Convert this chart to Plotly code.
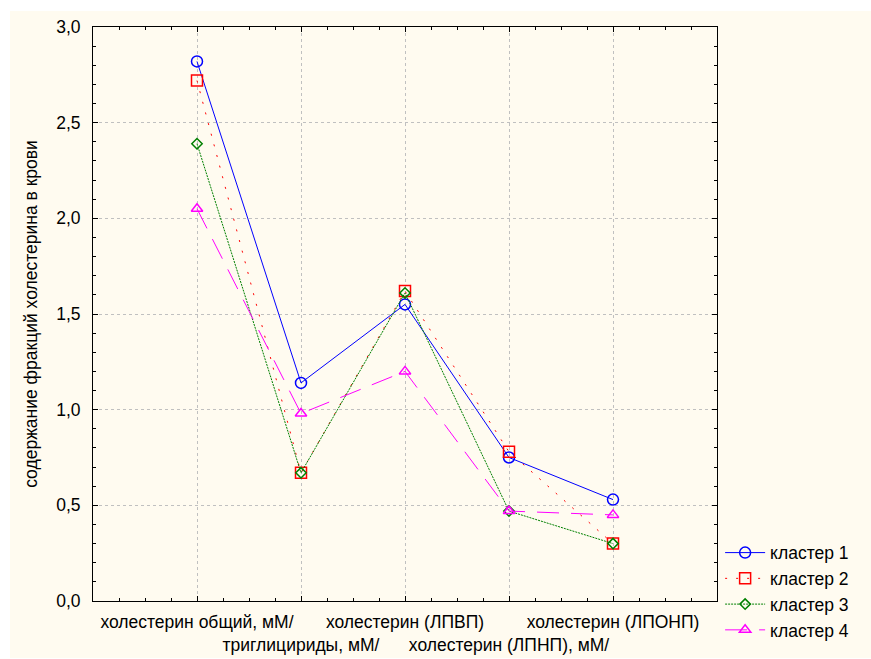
import plotly.graph_objects as go

categories = ["холестерин общий, мМ/", "триглицириды, мМ/", "холестерин (ЛПВП)",
              "холестерин (ЛПНП), мМ/", "холестерин (ЛПОНП)"]
series_names = ["кластер 1", "кластер 2", "кластер 3", "кластер 4"]
cluster1 = [2.82, 1.14, 1.55, 0.75, 0.53]
cluster2 = [2.72, 0.67, 1.62, 0.78, 0.30]
cluster3 = [2.39, 0.67, 1.61, 0.47, 0.30]
cluster4 = [2.05, 0.98, 1.20, 0.47, 0.45]
y_ticks = [0.0, 0.5, 1.0, 1.5, 2.0, 2.5, 3.0]

x_idx = list(range(len(categories)))
tick_text = [c if i % 2 == 0 else "<br>" + c for i, c in enumerate(categories)]

FONT = "Liberation Sans, Arial"
FS = 17.5

styles = [
    dict(color="#0000ff", dash="solid", symbol="circle-open", size=11),
    dict(color="#ff0000", dash="2px,9px", symbol="square-open", size=11),
    dict(color="#008000", dash="2px,1px", symbol="diamond-open", size=8),
    dict(color="#ff00ff", dash="22px,12px", symbol="triangle-up-open", size=10),
]

fig = go.Figure()
for name, vals, st in zip(series_names, [cluster1, cluster2, cluster3, cluster4], styles):
    fig.add_trace(go.Scatter(
        x=x_idx, y=vals, name=name, mode="lines+markers",
        line=dict(color=st["color"], width=1, dash=st["dash"]),
        marker=dict(symbol=st["symbol"], size=st["size"], color=st["color"],
                    line=dict(width=1.5, color=st["color"])),
    ))

axis_common = dict(
    showline=True, linecolor="black", linewidth=1, mirror="ticks",
    ticks="inside", ticklen=5, tickcolor="black",
    showgrid=True, gridcolor="#c0c0c0", griddash="dot", gridwidth=1,
    zeroline=False, automargin=False, tickangle=0,
    tickfont=dict(family=FONT, size=FS, color="black"),
)

fig.update_xaxes(
    range=[-1, 5], tickmode="array", tickvals=x_idx, ticktext=tick_text,
    ticklabelstandoff=5,
    minor=dict(dtick=0.25, tick0=0, ticks="inside", ticklen=3, tickcolor="black", showgrid=False),
    **axis_common,
)
fig.update_yaxes(
    range=[0, 3.0], tickmode="array", tickvals=y_ticks, tickformat=".1f",
    ticklabelstandoff=8,
    minor=dict(dtick=0.1, tick0=0, ticks="inside", ticklen=3, tickcolor="black", showgrid=False),
    title=dict(text="содержание фракций холестерина в крови",
               font=dict(family=FONT, size=FS, color="black"), standoff=14),
    **axis_common,
)

fig.add_shape(type="rect", xref="paper", yref="paper",
              x0=(10 - 93) / 624, x1=(871 - 93) / 624,
              y0=(602 - 659) / 575, y1=(602 - 11) / 575,
              fillcolor="#fffbf0", line=dict(width=0), layer="below")

fig.update_layout(
    width=871, height=659,
    margin=dict(l=93, r=154, t=27, b=57),
    paper_bgcolor="white", plot_bgcolor="white",
    separators=",.",
    font=dict(family=FONT, size=FS, color="black"),
    showlegend=True,
    legend=dict(x=1.005, y=0.117, xanchor="left", yanchor="top",
                bgcolor="rgba(0,0,0,0)", font=dict(family=FONT, size=FS), tracegroupgap=0,
                itemwidth=40),
)

fig.write_html("out.html")
